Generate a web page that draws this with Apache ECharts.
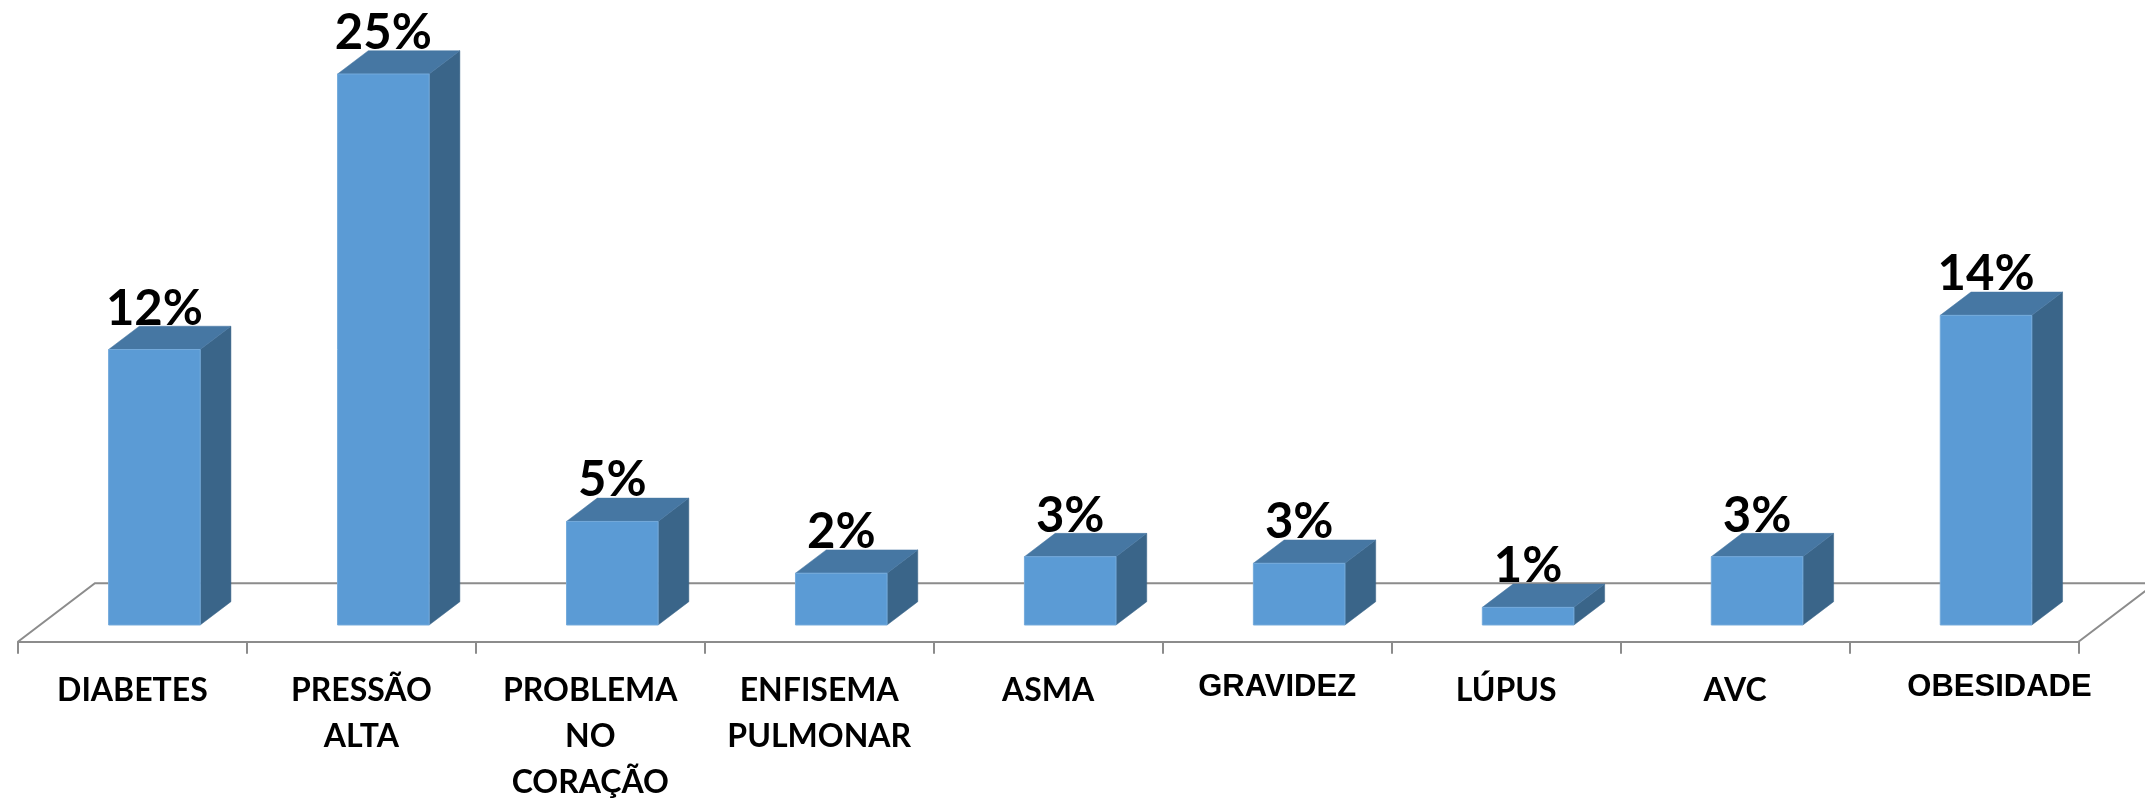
<!DOCTYPE html>
<html>
<head>
<meta charset="utf-8">
<script src="https://cdn.jsdelivr.net/npm/echarts@6/dist/echarts.min.js"></script>
<style>
html,body{margin:0;padding:0;background:#fff;}
#chart{width:2145px;height:799px;}
</style>
</head>
<body>
<div id="chart"></div>
<script>
// ---- data ----
const categories = ['DIABETES', 'PRESSÃO\nALTA', 'PROBLEMA\nNO\nCORAÇÃO', 'ENFISEMA\nPULMONAR', 'ASMA', 'GRAVIDEZ', 'LÚPUS', 'AVC', 'OBESIDADE'];
const values = [12.5, 25, 4.7, 2.35, 3.1, 2.8, 0.8, 3.1, 14.05];
const valueLabels = ['12%', '25%', '5%', '2%', '3%', '3%', '1%', '3%', '14%'];
const arialLabels = ['GRAVIDEZ', 'OBESIDADE'];

// ---- 3D look constants (style) ----
const DEPTH_X = 77, DEPTH_Y = 58.4;     // floor depth vector
const FRONT = 0.286, BACK = 0.685;      // bar depth position as fraction of floor depth
const GRID_LINE = '#8C8C8C';
const LABEL_FONT = 'Lato, "Noto Sans", sans-serif';

const xData = categories.map(function (c) {
  if (arialLabels.indexOf(c) >= 0) {
    const ts = { fontFamily: '"Liberation Sans", Arial, sans-serif', fontSize: 31, lineHeight: 40 };
    if (c === 'OBESIDADE') ts.padding = [0, 0, 0, 71];
    return { value: c, textStyle: ts };
  }
  return c;
});

const chart = echarts.init(document.getElementById('chart'), null, { renderer: 'canvas' });

const option = {
  backgroundColor: '#ffffff',
  animation: false,
  grid: { left: 17.9, right: 66.5, top: 24.6, bottom: 157.3, containLabel: false, outerBoundsMode: 'none' },
  xAxis: {
    type: 'category',
    data: xData,
    boundaryGap: true,
    axisLine: { show: true, lineStyle: { color: GRID_LINE, width: 2 } },
    axisTick: { show: true, length: 12, lineStyle: { color: GRID_LINE, width: 2 } },
    axisLabel: {
      interval: 0,
      margin: 26,
      color: '#000',
      fontFamily: LABEL_FONT,
      fontWeight: 'bold',
      fontSize: 32,
      lineHeight: 46,
      align: 'center'
    },
    splitLine: { show: false }
  },
  yAxis: { type: 'value', min: 0, max: 28, show: false, splitLine: { show: false } },
  series: [
    {
      type: 'custom',
      name: 'floor',
      silent: true,
      z: 1,
      data: [[0, 0]],
      renderItem: function (params, api) {
        const cs = params.coordSys;
        const xl = cs.x, xr = cs.x + cs.width, yf = cs.y + cs.height;
        return {
          type: 'polyline',
          shape: { points: [[xr, yf], [xr + DEPTH_X, yf - DEPTH_Y], [xl + DEPTH_X, yf - DEPTH_Y], [xl, yf]] },
          style: { stroke: GRID_LINE, lineWidth: 2, fill: null }
        };
      }
    },
    {
      type: 'custom',
      name: 'bars',
      z: 3,
      clip: false,
      data: values.map(function (v, i) { return [i, v]; }),
      encode: { x: 0, y: 1 },
      renderItem: function (params, api) {
        const i = api.value(0), v = api.value(1);
        const base = api.coord([i, 0]);
        const top = api.coord([i, v]);
        const bw = api.size([1, 0])[0] * 0.4;
        const fx = FRONT * DEPTH_X, fy = -FRONT * DEPTH_Y;
        const bx = (BACK - FRONT) * DEPTH_X, by = -(BACK - FRONT) * DEPTH_Y;
        const x0 = base[0] - bw / 2 + fx, x1 = x0 + bw;
        const yb = base[1] + fy, yt = top[1] + fy;
        return {
          type: 'group',
          children: [
            {
              type: 'polygon',
              shape: { points: [[x1, yt], [x1 + bx, yt + by], [x1 + bx, yb + by], [x1, yb]] },
              style: { fill: '#3A6589', stroke: '#3A6589', lineWidth: 0.5 }
            },
            {
              type: 'polygon',
              shape: { points: [[x0, yt], [x1, yt], [x1 + bx, yt + by], [x0 + bx, yt + by]] },
              style: { fill: '#4677A3', stroke: '#4677A3', lineWidth: 0.5 }
            },
            {
              type: 'rect',
              shape: { x: x0, y: yt, width: bw, height: yb - yt },
              style: { fill: '#5B9BD5', stroke: '#74AADB', lineWidth: 1 }
            },
            {
              type: 'text',
              style: {
                text: valueLabels[params.dataIndex],
                x: (x0 + x1) / 2,
                y: yt + by + 7,
                align: 'center',
                verticalAlign: 'bottom',
                fill: '#000',
                fontFamily: LABEL_FONT,
                fontWeight: 'bold',
                fontSize: 49
              }
            }
          ]
        };
      }
    }
  ]
};
chart.setOption(option);
</script>
</body>
</html>
